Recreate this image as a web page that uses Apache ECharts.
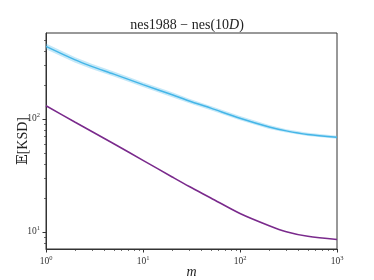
<!DOCTYPE html>
<html><head><meta charset="utf-8">
<script src="https://cdn.jsdelivr.net/npm/echarts@6/dist/echarts.min.js"></script>
<style>html,body{margin:0;padding:0;background:#fff}#c{width:374px;height:280px}</style>
</head><body><div id="c"></div>
<script>
const mValues = [1, 2, 3, 5, 10, 20, 30, 50, 100, 200, 300, 500, 1000];
const blueMean = [436, 331, 289, 248, 200, 163, 143.6, 124, 101, 84.5, 78, 72.5, 68.4];
const blueUpper = [462, 350, 305, 261, 210, 171, 150, 129.5, 105.5, 88, 80.8, 74.9, 70.5];
const blueLower = [411, 313, 274, 236, 191, 155, 137, 118.5, 96.8, 81.2, 75.3, 70.2, 66.3];
const purpleMean = [130, 93, 76.7, 60, 42.8, 30.5, 25.1, 19.9, 14.5, 11.3, 10.0, 9.1, 8.53];
const xMajorTicks = [1, 10, 100, 1000];
const xMinorTicks = [2,3,4,5,6,7,8,9,20,30,40,50,60,70,80,90,200,300,400,500,600,700,800,900];
const yMajorTicks = [10, 100];
const yMinorTicks = [8,9,20,30,40,50,60,70,80,90,200,300,400,500];
const xMin = 1, xMax = 1000, yMin = 7.03, yMax = 573;

const serif = '"Liberation Serif", "DejaVu Serif", serif';
function powLabel(v){
  const k = Math.round(Math.log10(v));
  if (Math.abs(Math.log10(v) - k) > 1e-6) return '';
  return '{b|10}{s|' + k + '}';
}
const labelRich = {
  b:{fontFamily:serif,fontSize:9.5,color:'#333'},
  s:{fontFamily:serif,fontSize:6.5,color:'#333',verticalAlign:'bottom',padding:[0,0,6,0]}
};
const tickData = [];
xMajorTicks.forEach(v=>tickData.push([v, 'xM']));
xMinorTicks.forEach(v=>tickData.push([v, 'xm']));
yMajorTicks.forEach(v=>tickData.push([v, 'yM']));
yMinorTicks.forEach(v=>tickData.push([v, 'ym']));

const chart = echarts.init(document.getElementById('c'));
chart.setOption({
  animation:false,
  title:{
    text:'nes1988 − nes(10{i|D})',
    left:'center', top:13,
    textStyle:{fontFamily:serif,fontSize:14,fontWeight:'normal',color:'#222',
      rich:{i:{fontFamily:serif,fontSize:14,fontStyle:'italic',color:'#222'}}}
  },
  grid:{left:46,right:37,top:33,bottom:31,outerBoundsMode:'none',containLabel:false,
    show:true,borderColor:'#333',borderWidth:1,backgroundColor:'transparent'},
  xAxis:{type:'log',logBase:10,min:xMin,max:xMax,
    name:'m',nameLocation:'middle',nameGap:16,nameMoveOverlap:false,
    nameTextStyle:{fontFamily:serif,fontSize:14,fontStyle:'italic',color:'#222'},
    axisLine:{lineStyle:{color:'#333',width:1}},
    axisTick:{show:false},splitLine:{show:false},
    axisLabel:{formatter:powLabel,rich:labelRich,margin:6,showMinLabel:true,showMaxLabel:true}
  },
  yAxis:{type:'log',logBase:10,min:yMin,max:yMax,
    name:'𝔼[KSD]',nameLocation:'middle',nameGap:16,nameRotate:90,nameMoveOverlap:false,
    nameTextStyle:{fontFamily:serif,fontSize:14,color:'#222'},
    axisLine:{show:true,lineStyle:{color:'#333',width:1}},
    axisTick:{show:false},splitLine:{show:false},
    axisLabel:{formatter:powLabel,rich:labelRich,margin:6}
  },
  series:[
    {type:'custom',data:[[mValues[0],blueMean[0]]],silent:true,z:1,
      renderItem:function(params,api){
        const pts = [];
        for (let i=0;i<mValues.length;i++) pts.push(api.coord([mValues[i],blueUpper[i]]));
        for (let i=mValues.length-1;i>=0;i--) pts.push(api.coord([mValues[i],blueLower[i]]));
        return {type:'polygon',shape:{points:pts},style:{fill:'rgba(86,190,235,0.35)',stroke:null}};
      }},
    {type:'line',data:mValues.map((m,i)=>[m,blueMean[i]]),symbol:'none',smooth:0.3,
      lineStyle:{color:'#45b6e8',width:1.5},z:3},
    {type:'line',data:mValues.map((m,i)=>[m,purpleMean[i]]),symbol:'none',smooth:0.3,
      lineStyle:{color:'#7a2a8c',width:1.6},z:3},
    {type:'custom',data:tickData,clip:false,silent:true,z:5,
      renderItem:function(params,api){
        const v = api.value(0), kind = tickData[params.dataIndex][1];
        const major = kind[1]==='M';
        const len = major?3.5:2;
        let x1,y1,x2,y2;
        if (kind[0]==='x'){
          const p = api.coord([v,yMin]);
          x1=x2=Math.round(p[0])+0.5; y1=p[1]; y2=p[1]+len;
        } else {
          const p = api.coord([xMin,v]);
          y1=y2=Math.round(p[1])+0.5; x1=p[0]; x2=p[0]-len;
        }
        return {type:'line',shape:{x1,y1,x2,y2},style:{stroke:'#333',lineWidth:major?1:0.7}};
      }
    }
  ]
});
</script></body></html>
